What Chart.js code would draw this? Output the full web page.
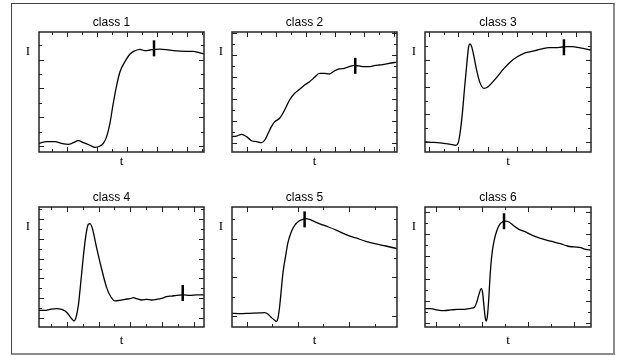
<!DOCTYPE html>
<html>
<head>
<meta charset="utf-8">
<script src="https://cdn.jsdelivr.net/npm/chart.js@4.4.1/dist/chart.umd.min.js"></script>
<style>
  body { margin: 0; background: #fff; width: 624px; height: 356px; position: relative; overflow: hidden; }
  #frame { position: absolute; left: 11px; top: 3px; width: 601px; height: 349px;
           border-left: 1px solid #444; border-top: 1px solid #444;
           border-right: 2px solid #8c8c8c; border-bottom: 2px solid #8c8c8c; }
  canvas { position: absolute; }
</style>
</head>
<body>
<div id="frame"></div>
<script>
// values: t and I both in arbitrary units (0..100 of each axis)
const classNames = ['class 1', 'class 2', 'class 3', 'class 4', 'class 5', 'class 6'];
const xLabel = 't';
const yLabel = 'I';

const class1T = [0, 4.6, 9.7, 13.7, 17.8, 20.8, 23.8, 26.9, 30.9, 33.9, 37, 39, 41, 43, 45, 47.1, 49.1, 52.1, 55.2, 58.2, 61.2, 64.2, 67.3, 70.3, 73.3, 77.4, 81.4, 85.5, 89.5, 93.5, 96.6, 100];
const class1I = [7.2, 8.6, 8.6, 7.2, 6.4, 7.8, 9.4, 7.8, 5.6, 3.9, 5, 7.2, 12.8, 23.9, 40.6, 55.8, 66.9, 75.3, 81.7, 84.4, 85.6, 84.4, 85, 85.6, 85.8, 85.3, 84.4, 84, 83.9, 83.9, 83, 81.7];

const class2T = [0, 2.8, 5.8, 8.8, 11.8, 14.9, 17.9, 19.9, 21.9, 23.9, 25.9, 28.9, 31.9, 34.9, 38, 41, 44, 47, 50, 53, 56, 59, 62, 65.1, 68.1, 71.1, 74.1, 77.1, 80.1, 83.1, 86.1, 89.2, 92.2, 95.2, 100];
const class2I = [12.8, 13.3, 14.7, 12.8, 9.4, 8.6, 7.8, 10, 15.6, 21.1, 25.3, 28.1, 35, 43.3, 48.9, 52.2, 55.8, 58.6, 62.2, 65.6, 65.6, 65, 67.5, 69.2, 69.7, 71.1, 72.2, 71.7, 71.1, 71.1, 71.9, 72.5, 73, 73.9, 74.9];

const class3T = [0, 3.4, 7.4, 11.4, 15.5, 18.5, 19.9, 21.1, 22.5, 23.9, 25.1, 26.3, 27.1, 28.1, 29.5, 31.1, 33.1, 35.5, 37.6, 40, 43.6, 47.6, 51.6, 55.6, 59.6, 63.7, 67.7, 71.7, 74.7, 78.7, 82.7, 85.7, 88.8, 91.8, 95.8, 100];
const class3I = [8.6, 8.1, 7.8, 7.2, 6.4, 5.6, 7.2, 15.6, 32.2, 54.4, 72.2, 87.8, 90, 87.8, 79.4, 68.3, 57.8, 53.1, 53.9, 57.2, 62.8, 69.7, 75.3, 79.4, 82.2, 83.6, 85, 86.4, 86.9, 86.9, 87.5, 87.8, 87.8, 87.2, 86.1, 85];

const class4T = [0, 3.6, 6.7, 10.7, 13.7, 15.8, 17.8, 19.8, 21.2, 22.4, 23.8, 25.3, 26.9, 28.5, 29.9, 30.9, 32.5, 34.9, 38, 41, 43.6, 46.1, 49.1, 52.1, 55.2, 57.2, 59.2, 62.2, 65.3, 68.3, 71.3, 74.3, 77.4, 80.4, 83.4, 87.5, 91.5, 95.6, 100];
const class4I = [13.9, 13.9, 14.7, 15.3, 14.7, 13.3, 10.6, 6.9, 5, 7.8, 17.5, 36.9, 59.2, 77.2, 85.6, 86.1, 81.4, 66.1, 48.1, 32.8, 25, 21.7, 22.2, 23.1, 23.6, 24.4, 23.6, 22.5, 23.1, 22.5, 23.1, 23.9, 25.3, 25.8, 26.4, 26.7, 26.4, 26.7, 26.7];

const class5T = [0, 4.8, 10.8, 16.9, 19.9, 21.9, 23.9, 25.9, 26.9, 27.9, 28.9, 29.9, 30.9, 32.5, 33.9, 35.9, 38, 40.6, 43, 44.6, 47, 50, 54, 58, 63.1, 69.1, 75.1, 81.1, 87.2, 93.2, 100];
const class5I = [11.4, 11.1, 11.4, 11.7, 11.9, 10.6, 7.8, 5.6, 4.7, 7.8, 17.5, 31.4, 45.3, 59.2, 70.3, 79.2, 84.7, 88.3, 89.7, 90.3, 89.7, 87.8, 85.6, 83.6, 80.8, 76.9, 74.2, 71.4, 69.2, 67.5, 65.3];

const class6T = [0, 3.4, 7.4, 11.4, 15.5, 19.5, 23.5, 27.5, 29.9, 31.1, 32.5, 33.9, 34.7, 35.5, 36.3, 36.9, 37.6, 38.4, 39.2, 40.2, 41.6, 43.2, 45, 47, 48.6, 50.6, 53.6, 56.6, 60.6, 64.7, 69.7, 73.7, 77.7, 81.7, 85.7, 89.8, 93.8, 96.8, 100];
const class6I = [15.3, 15.3, 14.2, 13.6, 14.2, 14.7, 14.7, 15.6, 16.7, 20.3, 27.2, 31.9, 28.6, 17.5, 7.8, 5, 9.2, 23.1, 42.5, 59.2, 71.7, 80, 85.6, 87.8, 88.3, 87.5, 84.2, 81.4, 79.2, 76.4, 73.9, 72.2, 70.8, 69.4, 67.5, 66.7, 66.1, 64.7, 64.2];

// the short vertical bar on each curve
const markerT = [69.7, 74.7, 83.7, 87.1, 44, 47.6];
const markerI = [86.4, 71.8, 87.3, 28.3, 89.7, 88.1];

const seriesT = [class1T, class2T, class3T, class4T, class5T, class6T];
const seriesI = [class1I, class2I, class3I, class4I, class5I, class6I];

// layout: plot boxes in page pixels [left, top, right, bottom]
const boxes = [
  [39, 32, 204, 152], [232, 32, 397, 152], [425, 32, 591, 152],
  [39, 207, 204, 327], [232, 207, 397, 327], [425, 207, 591, 327]
];
// inner tick marks: [first, step, majorParity] for x and y
const xTickSpec = [[8.1, 9.09, 1], [8.9, 8.92, 0], [2.4, 8.84, 0], [7.3, 9.6, 1], [8.9, 15.5, 0], [6.45, 13.9, 0]];
const yTickSpec = [[5, 12, 0], [7.2, 9.2, 0], [8.6, 11.4, 0], [7.75, 8.2, 0], [9.2, 16.1, 0], [3.6, 9.2, 0]];

const serif = "'Liberation Serif', 'Times New Roman', serif";
const sans = "'Liberation Sans', Arial, Helvetica, sans-serif";

const boxTicks = {
  id: 'boxTicks',
  afterDatasetsDraw(chart, args, opts) {
    const { ctx, chartArea: a, scales: { x, y } } = chart;
    ctx.save();
    ctx.strokeStyle = '#222';
    ctx.lineWidth = 1;
    ctx.beginPath();
    const [x0, xs, xp] = opts.xTicks;
    for (let k = 0; x0 + k * xs < 99.5; k++) {
      const px = Math.round(x.getPixelForValue(x0 + k * xs)) + 0.5;
      const len = (k % 2 === xp) ? 5 : 3;
      ctx.moveTo(px, a.top); ctx.lineTo(px, a.top + len);
      ctx.moveTo(px, a.bottom); ctx.lineTo(px, a.bottom - len);
    }
    const [y0, ys, yp] = opts.yTicks;
    for (let k = 0; y0 + k * ys < 99.5; k++) {
      const py = Math.round(y.getPixelForValue(y0 + k * ys)) + 0.5;
      const len = (k % 2 === yp) ? 5 : 3;
      ctx.moveTo(a.left, py); ctx.lineTo(a.left + len, py);
      ctx.moveTo(a.right, py); ctx.lineTo(a.right - len, py);
    }
    ctx.stroke();
    ctx.lineWidth = 1.5;
    ctx.strokeStyle = '#262626';
    ctx.strokeRect(a.left, a.top, a.right - a.left, a.bottom - a.top);
    ctx.restore();
  }
};

boxes.forEach((b, i) => {
  const [L, T, R, B] = b;
  const bottomRow = i >= 3;
  const cv = document.createElement('canvas');
  const w = (R - L) + 40, h = (B - T) + 20 + 24;
  cv.width = w; cv.height = h;
  cv.style.left = (L - 20) + 'px';
  cv.style.top = (T - 20) + 'px';
  document.body.appendChild(cv);

  const line = seriesT[i].map((t, j) => ({ x: t, y: seriesI[i][j] }));

  new Chart(cv, {
    type: 'line',
    data: {
      datasets: [{
        data: line,
        borderColor: '#000',
        borderWidth: 1.3,
        pointRadius: 0,
        cubicInterpolationMode: 'monotone',
        fill: false
      }, {
        data: [{ x: markerT[i], y: markerI[i] }],
        showLine: false,
        pointStyle: 'line',
        rotation: 90,
        pointRadius: 8,
        borderWidth: 2.5,
        borderColor: '#000'
      }]
    },
    options: {
      responsive: false,
      animation: false,
      devicePixelRatio: 1,
      layout: { padding: { left: 0, right: 20, top: 0, bottom: 0 } },
      plugins: {
        legend: { display: false },
        tooltip: { enabled: false },
        title: {
          display: true,
          text: classNames[i],
          color: '#000',
          font: { family: sans, size: 12, weight: 'normal' },
          padding: { top: 3, bottom: 2.6 }
        },
        boxTicks: { xTicks: xTickSpec[i], yTicks: yTickSpec[i] }
      },
      scales: {
        x: {
          type: 'linear', min: 0, max: 100,
          grid: { display: false, drawTicks: false },
          border: { display: false },
          ticks: { display: false },
          title: {
            display: true, text: xLabel, color: '#000',
            font: { family: serif, size: 13 },
            padding: { top: 0, bottom: bottomRow ? 2.4 : 6.4 }
          },
          afterFit(s) { s.height = 24; }
        },
        y: {
          type: 'linear', min: 0, max: 100,
          grid: { display: false, drawTicks: false },
          border: { display: false },
          ticks: {
            display: true, padding: 9, color: '#000',
            font: { family: serif, size: 13 },
            callback: () => yLabel
          },
          afterBuildTicks(s) { s.ticks = [{ value: 83.3 }]; },
          afterFit(s) { s.width = 20; }
        }
      }
    },
    plugins: [boxTicks]
  });
});
</script>
</body>
</html>
